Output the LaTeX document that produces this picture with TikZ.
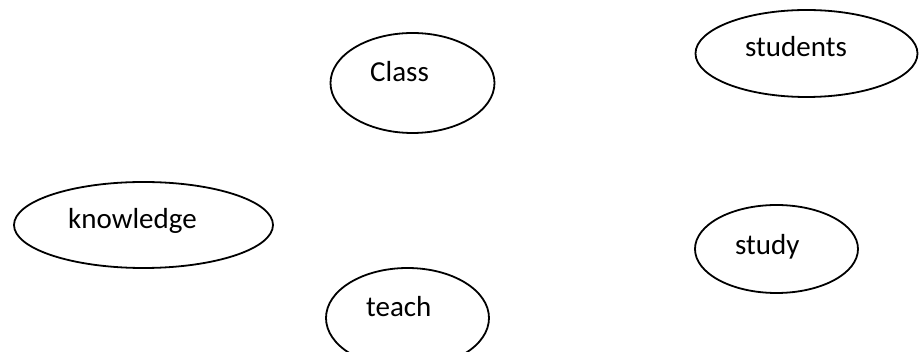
\documentclass[tikz,border=0pt]{standalone}
\usepackage{fontspec}
\setmainfont{Carlito}
\usetikzlibrary{shapes.geometric,calc}
\begin{document}
\begin{tikzpicture}[x=1pt,y=-1pt,
  oval/.style={draw=black,line width=1.8pt,ellipse,inner sep=0pt,outer sep=0pt},
  lbl/.style={anchor=base west,inner sep=0pt,font=\fontsize{29}{34}\selectfont}]
\useasboundingbox (0,0) rectangle (919,352);
\clip (0,0) rectangle (919,352);
\node[oval,minimum width=164pt,minimum height=100pt] (class) at (412.5,83) {};
\node[lbl] (tclass) at (370,82) {Class};
\node[oval,minimum width=222pt,minimum height=87pt] (students) at (806.5,53.5) {};
\node[lbl] (tstudents) at (745,57) {students};
\node[oval,minimum width=259pt,minimum height=86pt] (knowledge) at (143.5,225) {};
\node[lbl] (tknowledge) at (68,229) {knowledge};
\node[oval,minimum width=163pt,minimum height=88pt] (study) at (776.5,249) {};
\node[lbl] (tstudy) at (735,255) {study};
\node[oval,minimum width=163pt,minimum height=100pt] (teach) at (407.5,318) {};
\node[lbl] (tteach) at (366,317) {teach};
\end{tikzpicture}
\end{document}
